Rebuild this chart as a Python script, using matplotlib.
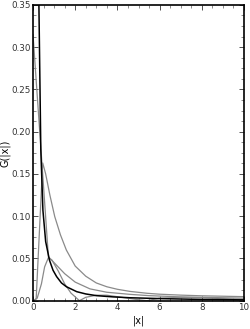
import matplotlib
matplotlib.use("Agg")
import matplotlib.pyplot as plt
from matplotlib.ticker import MultipleLocator

# Black curve (diverges at small |x|)
black_x = [0.22, 0.28, 0.37, 0.47, 0.60, 0.78, 0.95, 1.12, 1.35, 1.58, 2.07, 2.5, 3.0, 3.8, 4.6, 6.0, 8.0, 10.0]
black_y = [0.50, 0.35, 0.179, 0.107, 0.070, 0.048, 0.036, 0.0285, 0.021, 0.0166, 0.0107, 0.008, 0.006, 0.0045, 0.0035, 0.0025, 0.0015, 0.001]

# Gray curve A (peak 0.163)
ga_x = [0.0, 0.15, 0.46, 0.6, 0.8, 1.03, 1.3, 1.58, 2.0, 2.5, 3.0, 3.5, 4.0, 4.6, 5.4, 6.0, 7.0, 8.0, 10.0]
ga_y = [0.0, 0.002, 0.163, 0.150, 0.125, 0.0996, 0.078, 0.060, 0.041, 0.029, 0.021, 0.0165, 0.0135, 0.011, 0.0088, 0.0077, 0.0066, 0.0058, 0.0048]

# Gray curve B (starts at 0.315, corner at 0.052)
gb_x = [0.0, 0.73, 1.0, 1.5, 2.0, 2.7, 3.5, 4.6, 5.5, 7.0, 10.0]
gb_y = [0.315, 0.052, 0.045, 0.032, 0.022, 0.014, 0.010, 0.0075, 0.006, 0.0045, 0.003]

# Gray curve D (oscillating)
gd_x = [0.0, 0.2, 0.4, 0.55, 0.73, 0.9, 1.2, 1.5, 1.8, 2.2, 2.5, 3.0, 3.5, 4.2, 4.9, 5.4, 6.0, 7.0, 8.0, 9.0, 10.0]
gd_y = [0.0, 0.003, 0.020, 0.040, 0.051, 0.048, 0.035, 0.020, 0.009, 0.0, 0.004, 0.0065, 0.0065, 0.004, 0.0015, 0.0, 0.003, 0.004, 0.0035, 0.0025, 0.0015]

x_ticks = [0, 2, 4, 6, 8, 10]
y_ticks = [0.00, 0.05, 0.10, 0.15, 0.20, 0.25, 0.30, 0.35]

fig = plt.figure(figsize=(2.5, 3.29), dpi=100)
ax = fig.add_axes([0.132, 0.086, 0.844, 0.899])

gray = "#8a8a8a"
ax.plot(ga_x, ga_y, color=gray, lw=0.9)
ax.plot(gb_x, gb_y, color=gray, lw=0.9)
ax.plot(gd_x, gd_y, color=gray, lw=0.9)
ax.plot(black_x, black_y, color="black", lw=1.1)

ax.set_xlim(0, 10)
ax.set_ylim(0, 0.35)
ax.set_xticks(x_ticks)
ax.set_xticklabels([str(t) for t in x_ticks])
ax.set_yticks(y_ticks)
ax.set_yticklabels([f"{t:.2f}" for t in y_ticks])
ax.xaxis.set_minor_locator(MultipleLocator(0.5))
ax.yaxis.set_minor_locator(MultipleLocator(0.0125))
ax.tick_params(which="both", direction="in", top=True, right=True, labelsize=6.3, pad=1.5, colors="#333333")
ax.tick_params(which="major", length=3.5, width=0.6)
ax.tick_params(which="minor", length=2, width=0.4)
for s in ax.spines.values():
    s.set_linewidth(1.2)
    s.set_color("black")

ax.set_xlabel("|x|", fontsize=7)
ax.set_ylabel("G(|x|)", fontsize=7)
ax.xaxis.set_label_coords(0.5, -0.05)
ax.yaxis.set_label_coords(-0.105, 0.5)

fig.savefig("out.png", dpi=100)
